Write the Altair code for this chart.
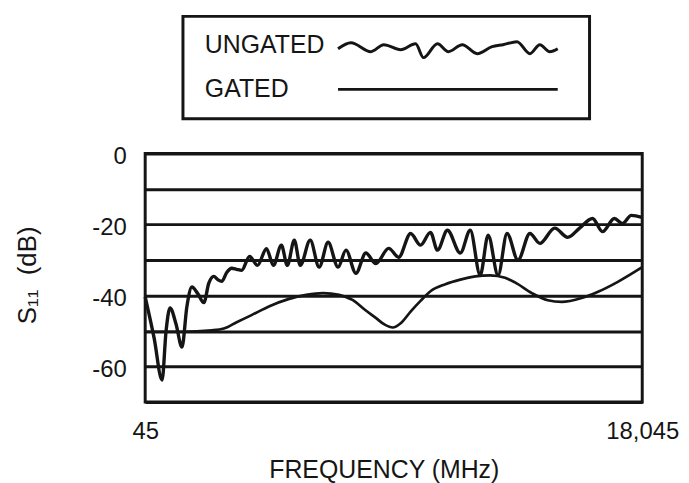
import altair as alt
import pandas as pd

# ---------------- data ----------------
ungated_mhz = [45, 369, 657, 801, 945, 1161, 1377, 1557, 1737, 1953,
               2169, 2349, 2529, 2673, 2817, 2997, 3177, 3357, 3537, 3825,
               4113, 4437, 4689, 4977, 5193, 5445, 5661, 6021, 6345, 6669,
               7029, 7317, 7677, 8037, 8397, 8865, 9225, 9657, 10017, 10377,
               10629, 10989, 11457, 11817, 12177, 12465, 12825, 13149, 13545, 13977,
               14337, 14877, 15345, 15777, 16245, 16605, 17037, 17325, 17649, 18045]
ungated_db = [-40.4, -52, -63.8, -50, -43.5, -48, -54.5, -43, -37.6, -39.5,
              -42, -36.5, -34.6, -35.5, -36, -33.5, -32.3, -32.6, -32.9, -29,
              -31.5, -26.8, -31.5, -25.8, -31.5, -24.4, -31.5, -24.4, -32, -25,
              -32, -27.2, -33.7, -28, -31, -26.7, -29.2, -22.5, -25.8, -22.2,
              -27.2, -21.6, -28, -21.6, -34.3, -23, -34.3, -22.5, -30, -22.5,
              -25.3, -21, -23.6, -21, -18.3, -22, -18.3, -19.7, -17.4, -18]

gated_mhz = [45, 1377, 2457, 2889, 3357, 3897, 4545, 5229, 5877, 6489,
             7065, 7569, 8001, 8397, 8721, 9009, 9297, 9657, 10017, 10377,
             10917, 11457, 11997, 12537, 13077, 13437, 14049, 14625, 15129, 15849,
             16425, 17145, 18045]
gated_db = [-50.2, -50.2, -49.8, -49.3, -47.5, -45.5, -43, -41, -39.8, -39.3,
            -39.8, -41.3, -44, -46.3, -48.2, -49, -47.8, -44.5, -41.5, -38.8,
            -36.8, -35.5, -34.6, -34.3, -35, -36.3, -39.3, -41.3, -41.8, -40.7,
            -39, -36.2, -32]

x_tick_values = [45, 18045]
y_grid_values = [0, -10, -20, -30, -40, -50, -60, -70]

legend_labels = ["UNGATED", "GATED"]
legend_wave_t = [0, 13, 33, 46, 63, 78, 86, 100, 111, 125, 140, 155, 166, 180, 193, 203, 213, 221]
legend_wave_v = [0, 6, -3, 4, -1, 5, -9, 5, -3, 4, -5, 2, 4, 7, -5, 4, -3, 0]

# ---------------- styling ----------------
FONT = "Liberation Sans"
INK = "#151515"

df = pd.concat([
    pd.DataFrame({"f": ungated_mhz, "db": ungated_db, "series": "UNGATED"}),
    pd.DataFrame({"f": gated_mhz, "db": gated_db, "series": "GATED"}),
], ignore_index=True)

x_enc = alt.X(
    "f:Q",
    scale=alt.Scale(domain=[45, 18045], nice=False, zero=False),
    axis=alt.Axis(values=x_tick_values, labelExpr="format(datum.value, ',')",
                  title="FREQUENCY (MHz)",
                  grid=False, ticks=False, domain=False, labelFlush=False,
                  labelPadding=18, labelFontSize=24, labelFont=FONT, labelColor=INK,
                  titleFont=FONT, titleFontSize=25, titleFontWeight="normal",
                  titleColor=INK, titlePadding=14, titleX=240),
)
y_enc = alt.Y(
    "db:Q",
    scale=alt.Scale(domain=[-70, 0], nice=False, zero=False),
    axis=alt.Axis(values=y_grid_values,
                  labelExpr="datum.value % 20 == 0 ? toString(datum.value) : ''",
                  grid=True, gridColor=INK, gridWidth=3, gridOpacity=1,
                  ticks=False, domain=False, labelPadding=19, labelOffset=3,
                  labelFontSize=24, labelFont=FONT, labelColor=INK,
                  title="S\u2081\u2081\u00a0 (dB)", titleFont=FONT, titleFontSize=26,
                  titleFontWeight="normal", titleColor=INK,
                  titleX=-118, titleY=122, titleBaseline="middle"),
)

main = alt.Chart(df).mark_line(
    color=INK, interpolate="monotone", strokeJoin="round"
).encode(
    x=x_enc,
    y=y_enc,
    detail="series:N",
    strokeWidth=alt.StrokeWidth("series:N", scale=alt.Scale(domain=legend_labels, range=[3.4, 2.7]), legend=None),
).properties(
    width=500, height=250,
    view=alt.ViewBackground(stroke=INK, strokeWidth=3),
)

# ---------------- legend panel ----------------
one = alt.Data(values=[{}])
box = alt.Chart(one).mark_rect(fill="white", stroke=INK, strokeWidth=3).encode(
    x=alt.value(38), x2=alt.value(447), y=alt.value(0), y2=alt.value(103)
)
wave = alt.Chart(pd.DataFrame({"t": legend_wave_t, "v": legend_wave_v})).mark_line(
    color=INK, strokeWidth=3, interpolate="monotone"
).encode(
    x=alt.X("t:Q", scale=alt.Scale(domain=[0, 221], range=[194, 415], nice=False, zero=False), axis=None),
    y=alt.Y("v:Q", scale=alt.Scale(domain=[-10, 10], range=[42.5, 22.5], nice=False, zero=False), axis=None),
)
gated_sample = alt.Chart(one).mark_rule(color=INK, strokeWidth=2.7).encode(
    x=alt.value(194), x2=alt.value(415), y=alt.value(73.5)
)
label_y = [29, 73]
texts = [
    alt.Chart(pd.DataFrame({"label": [lab]})).mark_text(
        align="left", baseline="middle", font=FONT, fontSize=25, color=INK
    ).encode(x=alt.value(60), y=alt.value(ly), text="label:N")
    for lab, ly in zip(legend_labels, label_y)
]
legend_panel = alt.layer(box, wave, gated_sample, *texts).properties(width=500, height=103)

chart = alt.vconcat(legend_panel, main, spacing=35, bounds="flush").properties(
    padding={"left": 5, "top": 5, "right": 0, "bottom": 0}
).configure_view(strokeWidth=0)

chart.save("out.html", embed_options={"renderer": "svg", "actions": False})
